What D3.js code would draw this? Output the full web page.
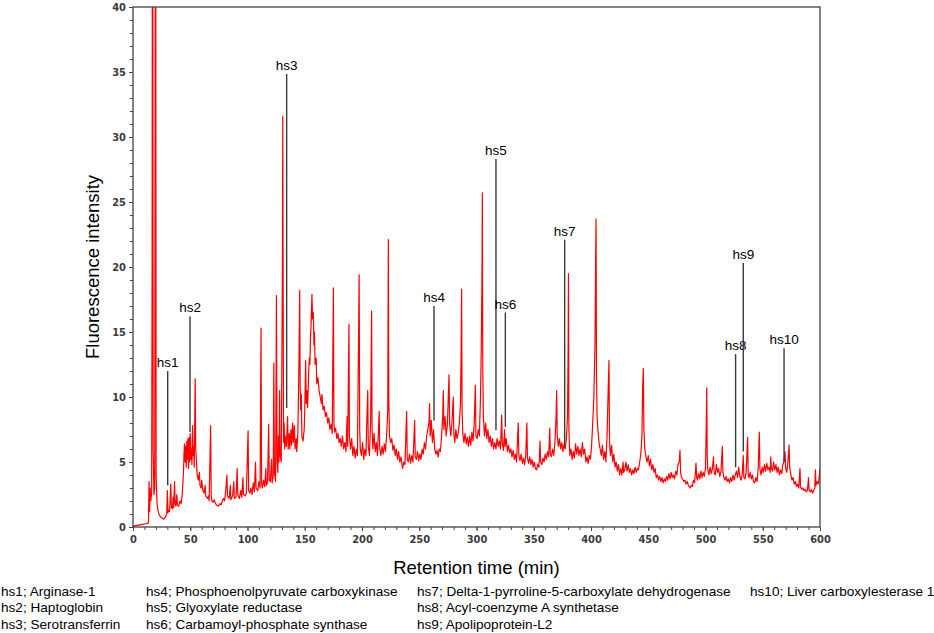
<!DOCTYPE html>
<html>
<head>
<meta charset="utf-8">
<script src="https://cdn.jsdelivr.net/npm/d3@7"></script>
<style>
  body { margin: 0; background: #fff; }
  .tick-label { font-family: "Liberation Sans Narrow", "DejaVu Sans Condensed", sans-serif; font-weight: bold; font-size: 11px; fill: #3a3a3a; }
  .axis-title { font-family: "Liberation Sans", Arial, sans-serif; font-size: 18.5px; fill: #000; }
  .peak-label { font-family: "Liberation Sans", Arial, sans-serif; font-size: 13.5px; fill: #000; }
  .legend { font-family: "Liberation Sans", Arial, sans-serif; font-size: 13.6px; fill: #000; }
</style>
</head>
<body>
<div id="chart-area"></div>
<script>
// chromatogram as [retention time (min), intensity]

const traceEarly = [
  [0,0.05],[2,0.1],[5,0.15],[8,0.2],[11,0.25],[13.5,0.3],[14,3.5],[14.5,1.2],[15,3.0],[15.5,2.0],
  [16.3,2.6],[16.7,20.4],[16.9,45],[17.3,45],[17.6,6],[18.3,2.5],[19.0,3.0],[19.5,45],[19.9,45],[20.2,4.0],
  [21,1.8],[22,1.2],[23,0.9],[25,0.7],[27,0.6],[28.5,0.8],[29.5,1.0],[30,2.8],[30.5,1.1],[31.5,1.3],[32,1.2],
  [33,3.3],[33.5,1.5],[34.5,1.4],[35,2.3],[35.5,1.5],[36.3,3.5],[36.8,1.8],[37.5,1.6],[38.3,2.5],[38.8,1.7],
  [40,1.6],[41,2.0],[42,1.8],[43,2.5],[44,4.0],[44.5,5.5],[45,6.4],[45.5,5.0],[46,6.2],[46.5,4.6],
  [47,6.6],[47.5,5.2],[48,6.8],[48.5,4.5],[49,6.9],[49.5,5.0],[50,7.2],[50.5,5.2],[51,6.0],[51.5,4.8],
  [52,7.8],[52.5,5.5],[53,6.2],[53.5,4.6],[54.3,11.4],[54.8,6.0],[55.5,5.0],[56,4.0],[57,3.6],[58,4.2],
  [58.5,3.2],[59.5,3.0],[60,3.6],[61,2.8],[62,2.6],[63,3.2],[63.5,2.4],[65,2.2],[66,2.4],[66.5,2.0],
  [67.8,7.8],[68.3,2.4],[69,2.0],[70,1.9],[71,2.1],[72,1.8],[73,1.7],[74.5,1.6],[76,1.8],[77,1.7],
  [78,2.0],[79,2.2],[80,2.0],[81,2.8],[82,4.0],[82.5,2.4],[84,2.2],[85,3.2],[85.5,2.1],[87,2.4],
  [88,3.5],[88.5,2.2],[90,2.3],[91,4.5],[91.5,2.5],[93,2.2],[94,2.8],[95,2.3],[96,3.8],[96.5,2.5],
  [98,2.4],[99,2.6],[100.5,7.4],[101,2.8],[102,2.6],[103,3.0],[104,2.5],[105,3.4],[106,2.7],[107,5.0],
  [107.5,3.0],[109,2.8],[110,3.5],[111,3.0],[111.8,15.3],[112.3,3.4],[113,3.0],[114,3.6],[115,3.1],[116,4.5],
  [116.5,3.2],[117.5,3.4],[118.5,7.9],[119,3.6],[120,3.5],[121,5.2],[121.5,3.4],[122.5,4.0],[123,12.6],[123.5,4.2],
  [124.5,3.5],[125.3,17.8],[125.8,5.0],[126.5,4.2],[127,7.0],[127.5,5.0],[128,10.5],[128.5,5.5],[129.5,5.0],[130.5,20.0],
  [130.8,31.6],[131.1,20.0],[131.5,6.5],[132,8.0],[132.5,6.0],[133,7.0],[134,6.2],[135,8.5],[135.5,6.0],[136.5,7.2],
  [137,6.0],[138,7.5],[138.5,6.3],[139.5,8.0],[140,6.5],[141,7.8],[141.5,6.0],[142.5,6.8],[143,5.8],[144,7.2]
];

const traceMid = [
  [145,13.0],[145.6,18.2],[146,10.8],[146.5,9.0],[147,10.2],[147.5,7.0],[148.5,6.6],[149.5,7.5],[150,9.0],[150.8,12.8],
  [151.3,9.5],[152,10.5],[152.5,9.2],[153.5,12.0],[154,13.0],[154.5,12.5],[155,14.5],[155.5,15.5],[156.3,17.9],[156.8,16.0],
  [157.5,16.5],[158,14.0],[158.5,15.0],[159,12.5],[160,13.0],[160.5,11.0],[161.5,11.5],[162.5,10.5],[163.5,10.0],[164.5,9.5],
  [165,10.2],[166,9.0],[167,9.3],[168,8.5],[169,8.8],[170,8.0],[171,8.4],[172,7.5],[173,7.9],[174,7.2],
  [175,18.4],[175.5,8.0],[176,7.3],[177,7.6],[178,6.8],[179,7.2],[180,6.5],[181,6.8],[182,6.2],[183,7.0],
  [184,6.0],[185,6.5],[186,5.8],[187,8.5],[187.5,6.2],[188.6,15.6],[189,7.0],[190,6.0],[191,6.8],[192,5.5],
  [193,6.2],[194,5.3],[195,6.0],[196,5.5],[197.5,19.4],[198,7.5],[198.5,6.0],[199.5,5.5],[200.5,6.5],[201.5,5.2],
  [202.5,6.0],[203.5,5.5],[204,7.5],[205,10.5],[205.5,6.2],[206.5,5.5],[207.5,8.0],[208.4,16.6],[208.8,7.5],[209.5,6.0],
  [210.5,7.2],[211.5,5.8],[212.5,6.5],[213.5,5.5],[215,8.9],[215.5,6.0],[216.5,5.5],[217.5,6.2],[218.5,5.6],[219.5,6.4],
  [220.5,5.8],[221.5,7.0],[222.5,9.0],[223,22.1],[223.4,10.0],[224,7.0],[225,6.5],[226,6.8],[227,5.9],[228,6.3],
  [229,5.5],[230,6.0],[231,5.2],[232,5.8],[233,5.0],[234,5.4],[235.5,4.5],[236.5,5.0],[237.5,4.8],[239,8.9],
  [239.5,5.2],[240.5,5.0],[241.5,5.6],[242.5,4.9],[243.5,5.5],[244.5,5.0],[246,8.2],[246.5,5.4],[247.5,5.2],[248.5,5.8],
  [249.5,5.1],[250.5,5.6],[251.5,5.2],[252.5,6.0],[253.5,5.6],[254.5,6.5],[255.5,6.0],[256.5,7.0],[257.5,7.5],[258.5,8.0],
  [259,9.5],[259.5,7.0],[260.5,8.2],[261.5,6.5],[262.5,7.5],[263.5,6.0],[264.5,5.6],[265.5,5.9],[266.5,5.4],[267.5,6.0],
  [268.5,5.8],[269.5,7.0],[270.5,8.5],[271,10.5],[271.5,7.5],[272.5,8.5],[273.5,7.0],[274.5,7.8],[275.2,9.5],[276,11.7],
  [276.5,8.0],[277.5,7.0],[278.5,8.0],[279.7,10.0],[280.2,7.2],[281,6.5],[282,7.5],[283,6.8],[284,7.2],[285,8.0],
  [286,9.5],[286.6,13.5],[287,18.3],[287.4,9.0],[288,7.2],[289,6.5],[290,7.2],[291,6.4],[292,6.9],[293,6.2],
  [294,7.0],[295,6.3],[296,7.3],[297,6.6],[298,8.0],[299,10.9],[299.5,7.0],[300.5,6.8],[301.5,7.5],[302.5,7.0],
  [303.5,10.0],[304.2,14.0],[304.8,19.4],[305.1,25.7],[305.5,12.0],[306,8.5],[307,7.0],[308,8.0],[309,6.8],[310,7.5],
  [311,6.5],[312,7.0],[313,6.2],[314,6.8],[315,6.0],[316,6.5],[317,6.0],[318,6.8],[319,6.2],[320,6.6],
  [321,6.0],[322,8.6],[322.5,6.5],[323.5,5.9],[324.5,7.5],[325,6.2],[326,6.8],[327,5.8],[328,6.3],[329,5.7],
  [330,6.0],[331,5.4],[332,5.9],[333,5.2],[334,5.6],[335,5.0],[336.5,8.0],[337,5.5],[338,5.1],[339,5.6],
  [340,4.9],[341,5.3],[342,4.8],[343,5.5],[344,8.0],[344.5,5.3],[345.5,4.9],[346.5,5.4],[347.5,4.8],[348.5,5.2],
  [349.5,4.6],[350.5,5.0],[351.5,4.5],[352.5,4.4],[353.5,4.8],[354.5,4.6],[355.5,6.6],[356,5.0],[357,4.8],[358,5.3],
  [359,5.0],[360,5.6],[361,5.2],[362,5.8],[363,5.4],[364,7.6],[364.5,5.6],[365.5,5.4],[366.5,6.0],[367.5,5.5],
  [368.5,6.5],[369.5,8.5],[370,10.5],[370.5,7.0],[371.5,6.2],[372.5,6.8],[373.5,6.0],[374.5,6.5],[375.5,5.8],[376.5,6.4],
  [377.5,6.0],[378.5,6.8],[379.5,8.5],[380,13.3],[380.3,19.5],[380.7,7.5]
];

const traceLate = [
  [381.5,5.5],[382.5,6.0],[383.5,5.2],[384.5,5.8],[385.5,5.3],[386.5,6.4],[387.5,5.6],[388.5,6.2],[389.5,5.5],[390.5,6.0],
  [391.5,5.4],[392.5,6.5],[393.5,5.6],[394.5,6.0],[395.5,5.0],[396.5,5.4],[397.5,4.9],[398.5,5.5],[399.5,5.2],[400.5,6.2],
  [401.5,8.0],[402.5,10.0],[403.5,14.0],[404,20.2],[404.4,23.7],[404.8,12.0],[405.3,8.5],[406,7.5],[407,6.5],[408,6.0],
  [409,5.5],[410,6.3],[411,5.2],[412,5.8],[413,5.0],[414,7.0],[415,10.4],[415.7,12.8],[416.2,6.5],[417,5.5],
  [418,6.3],[419,5.0],[420,5.6],[421,4.6],[422,5.0],[423,4.3],[424,4.8],[425,4.0],[426,4.5],[427,4.0],
  [428,5.0],[428.5,4.2],[429.5,4.4],[430.5,5.0],[431.5,4.3],[432.5,4.8],[433.5,4.2],[434.5,4.5],[435.5,4.0],[436.5,4.4],
  [437.5,4.1],[438.5,4.6],[439.5,4.2],[440.5,4.5],[441.5,4.4],[442.5,5.0],[443.5,5.6],[444.5,7.0],[445.2,11.0],[445.7,12.2],
  [446.2,7.5],[447,6.0],[448,5.4],[449,5.0],[450,5.5],[451,4.7],[452,5.2],[453,4.4],[454,4.8],[455,4.2],
  [456,4.5],[457,3.8],[458,4.0],[459,3.6],[460,3.9],[461,3.5],[462,3.8],[463,3.4],[464,3.7],[465,3.5],
  [466,3.9],[467,3.6],[468,4.1],[469,3.7],[470,4.2],[471,3.8],[472,4.0],[473,3.7],[474,4.3],[475,4.0],
  [476,4.8],[477,5.0],[477.7,5.9],[478.3,4.2],[479,3.8],[480,3.7],[481,3.5],[482,3.6],[483,3.3],[484,3.5],
  [485,3.2],[486.5,3.0],[487.5,3.2],[488.5,3.1],[489.5,3.6],[490.5,3.4],[491.7,4.9],[492.3,3.8],[493,3.6],[494,4.1],
  [495,3.7],[496,4.3],[497,3.8],[498,4.2],[499,3.9],[500,4.5],[500.7,8.0],[501.1,10.7],[501.5,5.5],[502,4.4],
  [503,4.0],[504,4.6],[505,4.1],[506,4.5],[507,5.4],[507.5,4.2],[508.5,4.0],[509.5,4.8],[510.5,4.2],[511.5,4.5],
  [512.5,3.9],[513.5,4.3],[514.7,6.2],[515.2,4.2],[516,3.8],[517,3.6],[518,3.9],[519,3.5],[520,3.7],[521,3.4],
  [522,3.8],[523,3.5],[524,4.0],[525,3.6],[526,4.0],[527,4.3],[528,3.8],[529,4.6],[530,3.9],[531,3.6],
  [532,4.0],[533,5.5],[533.5,3.8],[534.5,3.7],[535.5,4.2],[536.8,6.9],[537.3,4.0],[538,3.8],[539,4.2],[540,3.7],
  [541,4.0],[542,3.5],[543,3.4],[544,3.8],[545,3.5],[546,4.5],[547,7.3],[547.5,4.5],[548.5,4.0],[549.5,4.6],
  [550.5,4.2],[551.5,4.8],[552.5,4.3],[553.5,4.9],[554.5,4.4],[555.5,4.6],[556.5,4.2],[557,5.4],[557.5,4.5],[558.5,4.3],
  [559.5,5.0],[560.5,4.4],[561.5,4.8],[562.5,4.2],[563.5,4.6],[564.5,4.0],[565.5,4.4],[566.5,4.1],[567.5,4.8],[568.5,5.0],
  [569.4,5.8],[570,4.5],[571,4.2],[572,5.0],[573,6.3],[573.5,4.6],[574.5,4.0],[575.5,3.6],[576.5,3.8],[577.5,3.3],
  [578.5,3.5],[579.5,3.1],[580.5,3.3],[581.5,3.0],[582.5,4.5],[583,3.1],[584,2.9],[585,3.0],[586,2.8],[587,2.9],
  [588,2.7],[589,2.8],[590,3.8],[590.5,2.8],[591.5,2.7],[592.5,2.9],[593.5,2.6],[594.5,2.8],[595.5,3.0],[596,4.4],
  [596.5,3.2],[597.5,3.5],[598.5,3.3],[599.5,4.0],[600,4.5]
];

// annotated proteins: label, retention time, line top and line bottom (intensity units)
const peakLabels  = ["hs1", "hs2", "hs3", "hs4", "hs5", "hs6", "hs7", "hs8", "hs9", "hs10"];
const peakTimes   = [30.3, 49.8, 134.2, 262.9, 317.0, 325.2, 377.0, 526.3, 533.0, 568.6];
const peakTops    = [12.0, 16.2, 34.85, 17.0, 28.3, 16.5, 22.1, 13.3, 20.3, 13.75];
const peakBottoms = [3.2, 7.3, 9.15, 8.2, 7.45, 7.7, 6.3, 4.6, 5.8, 5.0];

const legendNames = [
  "hs1; Arginase-1", "hs2; Haptoglobin", "hs3; Serotransferrin",
  "hs4; Phosphoenolpyruvate carboxykinase", "hs5; Glyoxylate reductase", "hs6; Carbamoyl-phosphate synthase",
  "hs7; Delta-1-pyrroline-5-carboxylate dehydrogenase", "hs8; Acyl-coenzyme A synthetase", "hs9; Apolipoprotein-L2",
  "hs10; Liver carboxylesterase 1"
];

const xTicks = [0, 50, 100, 150, 200, 250, 300, 350, 400, 450, 500, 550, 600];
const yTicks = [0, 5, 10, 15, 20, 25, 30, 35, 40];

const WIDTH = 934;
const HEIGHT = 633;
const PLOT = { left: 133, right: 820, top: 7, bottom: 527 };

let svg = d3.select("#chart-area").append("svg")
    .attr("width", WIDTH)
    .attr("height", HEIGHT);

let x = d3.scaleLinear().domain([0, 600]).range([PLOT.left, PLOT.right]);
let y = d3.scaleLinear().domain([0, 40]).range([PLOT.bottom, PLOT.top]);

svg.append("clipPath").attr("id", "plot-clip")
  .append("rect")
    .attr("x", PLOT.left).attr("y", PLOT.top)
    .attr("width", PLOT.right - PLOT.left).attr("height", PLOT.bottom - PLOT.top);

// trace
let trace = traceEarly.concat(traceMid, traceLate);
let line = d3.line().x(d => x(d[0])).y(d => y(d[1]));

svg.append("path")
    .datum(trace)
    .attr("clip-path", "url(#plot-clip)")
    .attr("fill", "none")
    .attr("stroke", "#ff0000")
    .attr("stroke-width", 1.2)
    .attr("stroke-linejoin", "round")
    .attr("d", line);

// frame
svg.append("rect")
    .attr("x", PLOT.left).attr("y", PLOT.top)
    .attr("width", PLOT.right - PLOT.left).attr("height", PLOT.bottom - PLOT.top)
    .attr("fill", "none")
    .attr("stroke", "#333")
    .attr("stroke-width", 1.2);

// axes: major ticks labelled, minor ticks unlabelled
let xMinor = d3.axisBottom(x).tickValues(d3.range(0, 601, 10)).tickSize(3).tickFormat("");
let xMajor = d3.axisBottom(x).tickValues(xTicks).tickSize(4).tickPadding(4);
let yMinor = d3.axisLeft(y).tickValues(d3.range(0, 41, 1)).tickSize(3).tickFormat("");
let yMajor = d3.axisLeft(y).tickValues(yTicks).tickSize(4).tickPadding(3);

[xMinor, xMajor].forEach(ax => {
    svg.append("g").attr("transform", `translate(0,${PLOT.bottom})`).call(ax);
});
[yMinor, yMajor].forEach(ax => {
    svg.append("g").attr("transform", `translate(${PLOT.left},0)`).call(ax);
});

svg.selectAll(".domain").remove();
svg.selectAll(".tick line").attr("stroke", "#444").attr("stroke-width", 1);
svg.selectAll(".tick text").attr("class", "tick-label").attr("font-family", null).attr("font-size", null);

// annotation lines + labels
peakLabels.forEach((lab, i) => {
    svg.append("line")
        .attr("x1", x(peakTimes[i])).attr("x2", x(peakTimes[i]))
        .attr("y1", y(peakTops[i])).attr("y2", y(peakBottoms[i]))
        .attr("stroke", "#3a3a3a")
        .attr("stroke-width", 1.4);
    svg.append("text")
        .attr("class", "peak-label")
        .attr("text-anchor", "middle")
        .attr("x", x(peakTimes[i]))
        .attr("y", y(peakTops[i]) - 4)
        .text(lab);
});

// axis titles
svg.append("text")
    .attr("class", "axis-title")
    .attr("text-anchor", "middle")
    .attr("transform", `translate(99,${(PLOT.top + PLOT.bottom) / 2}) rotate(-90)`)
    .text("Fluorescence intensity");

svg.append("text")
    .attr("class", "axis-title")
    .attr("text-anchor", "middle")
    .attr("x", (PLOT.left + PLOT.right) / 2)
    .attr("y", 574)
    .text("Retention time (min)");

// legend, three rows per column
const LEGEND_COLS = [1, 146, 417, 750];
legendNames.forEach((name, i) => {
    svg.append("text")
        .attr("class", "legend")
        .attr("x", LEGEND_COLS[Math.floor(i / 3)])
        .attr("y", 596 + (i % 3) * 16.3)
        .text(name);
});
</script>
</body>
</html>
